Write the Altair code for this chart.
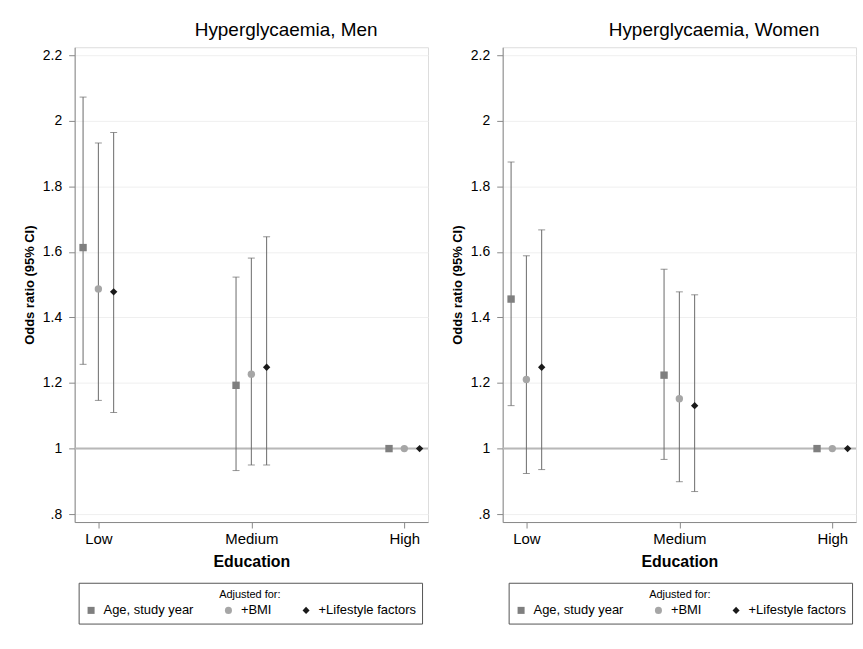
import altair as alt
import pandas as pd

FONT = "Liberation Sans"

education = ["Low", "Medium", "High"]
series = ["Age, study year", "+BMI", "+Lifestyle factors"]
series_shapes = ["square", "circle", "diamond"]
series_colors = ["#7f7f7f", "#a6a6a6", "#1a1a1a"]
y_ticks = [0.8, 1.0, 1.2, 1.4, 1.6, 1.8, 2.0, 2.2]

# Men
men_age_or = [1.613, 1.193, 1.0]
men_age_lo = [1.257, 0.933, None]
men_age_hi = [2.072, 1.523, None]
men_bmi_or = [1.487, 1.227, 1.0]
men_bmi_lo = [1.147, 0.950, None]
men_bmi_hi = [1.932, 1.581, None]
men_life_or = [1.478, 1.248, 1.0]
men_life_lo = [1.110, 0.950, None]
men_life_hi = [1.964, 1.646, None]

# Women
women_age_or = [1.456, 1.224, 1.0]
women_age_lo = [1.131, 0.967, None]
women_age_hi = [1.874, 1.547, None]
women_bmi_or = [1.211, 1.152, 1.0]
women_bmi_lo = [0.924, 0.899, None]
women_bmi_hi = [1.588, 1.478, None]
women_life_or = [1.248, 1.131, 1.0]
women_life_lo = [0.936, 0.869, None]
women_life_hi = [1.667, 1.469, None]


def build_df(groups):
    rows = []
    for si, (s, (ors, los, his)) in enumerate(zip(series, groups)):
        for ei, e in enumerate(education):
            rows.append({"edu": e, "ei": ei + 1, "series": s, "si": si,
                         "or": ors[ei], "lo": los[ei], "hi": his[ei]})
    return pd.DataFrame(rows)


men_df = build_df([(men_age_or, men_age_lo, men_age_hi),
                   (men_bmi_or, men_bmi_lo, men_bmi_hi),
                   (men_life_or, men_life_lo, men_life_hi)])
women_df = build_df([(women_age_or, women_age_lo, women_age_hi),
                     (women_bmi_or, women_bmi_lo, women_bmi_hi),
                     (women_life_or, women_life_lo, women_life_hi)])

label_list = "['', " + ", ".join("'%s'" % e for e in education) + "]"

W, H = 355, 477


def panel(title, df, legend_x):
    x_enc = alt.X("xpos:Q",
                  scale=alt.Scale(domain=[0.845, 3.155], nice=False, zero=False),
                  axis=alt.Axis(values=[1, 2, 3], labelExpr=label_list + "[datum.value]",
                                title="Education", grid=False, labelFontSize=15,
                                titleFontSize=16, titleFontWeight="bold",
                                labelPadding=4, titlePadding=7, tickSize=6))
    y_scale = alt.Scale(domain=[0.776, 2.224], nice=False, zero=False)
    y_axis = alt.Axis(values=y_ticks,
                      labelExpr="replace(format(datum.value, '~g'), '0.', '.')",
                      title="Odds ratio (95% CI)", grid=True, gridColor="#efefef",
                      labelFontSize=14, titleFontSize=13, titleFontWeight="bold",
                      labelPadding=7, titlePadding=6, tickSize=6)

    base = alt.Chart(df).transform_calculate(
        xpos="datum.ei + (datum.si - 1) * 0.1")

    ref = alt.Chart(pd.DataFrame({"v": [1.0]})).mark_rule(
        color="#b8b8b8", strokeWidth=2).encode(y=alt.Y("v:Q", scale=y_scale, axis=y_axis))

    ci_base = base.transform_filter("isValid(datum.lo) && isValid(datum.hi)")
    ci = ci_base.mark_rule(color="#6a6a6a", strokeWidth=1).encode(
        x=x_enc, y=alt.Y("lo:Q", scale=y_scale, axis=y_axis), y2="hi:Q")
    cap_lo = ci_base.mark_tick(orient="horizontal", color="#6a6a6a", size=7,
                               thickness=1).encode(x=x_enc, y=alt.Y("lo:Q", scale=y_scale))
    cap_hi = ci_base.mark_tick(orient="horizontal", color="#6a6a6a", size=7,
                               thickness=1).encode(x=x_enc, y=alt.Y("hi:Q", scale=y_scale))

    leg = alt.Legend(title="Adjusted for:", orient="none", legendX=legend_x, legendY=538,
                     direction="horizontal", columns=3, columnPadding=28,
                     titleAnchor="middle", titleFontSize=11, titleFontWeight="normal",
                     titleColor="#000", labelFontSize=13, labelColor="#000",
                     symbolSize=50, symbolStrokeWidth=0, padding=6,
                     strokeColor="#555555", fillColor="white", labelLimit=0,
                     labelOffset=6, titlePadding=4)

    pts = base.mark_point(filled=True, opacity=1, size=55).encode(
        x=x_enc, y=alt.Y("or:Q", scale=y_scale),
        shape=alt.Shape("series:N", scale=alt.Scale(domain=series, range=series_shapes), legend=leg),
        color=alt.Color("series:N", scale=alt.Scale(domain=series, range=series_colors), legend=leg))

    return alt.layer(ref, ci, cap_lo, cap_hi, pts).properties(
        width=W, height=H,
        title=alt.TitleParams(title, fontSize=19, fontWeight="normal", font=FONT,
                              anchor="middle", dx=35, offset=7, color="#000"))


chart = alt.hconcat(
    panel("Hyperglycaemia, Men", men_df, 4),
    panel("Hyperglycaemia, Women", women_df, 6),
    spacing=21,
).resolve_scale(color="independent", shape="independent").properties(
    padding={"left": 23, "top": 19, "right": 5, "bottom": 5}
).configure_view(stroke=None).configure_axis(
    domainColor="#555555", tickColor="#555555", labelColor="#000", titleColor="#000",
    labelFont=FONT, titleFont=FONT
).configure_legend(labelFont=FONT, titleFont=FONT).configure(background="white")

chart.save("out.html", embed_options={"renderer": "svg", "actions": False})
